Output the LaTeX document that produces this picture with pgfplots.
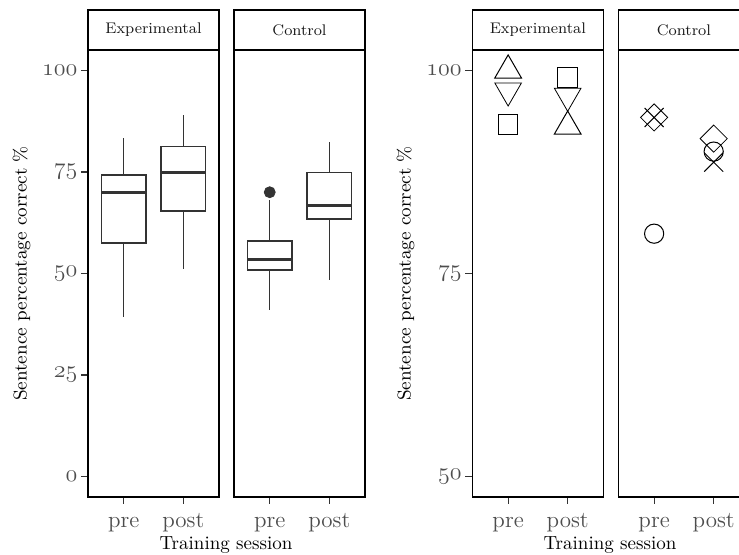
\documentclass[border=0pt]{standalone}
\usepackage{pgfplots}
\pgfplotsset{compat=1.18}
\usepgfplotslibrary{statistics}
\definecolor{gray10}{HTML}{1A1A1A}
\definecolor{gray20}{HTML}{333333}
\definecolor{gray30}{HTML}{4D4D4D}
\pgfplotsset{
  facet/.style={
    scale only axis,
    anchor=south west,
    width=65.5pt, height=223.5pt,
    xmin=0.4, xmax=2.6,
    xtick={1,2}, xticklabels={pre,post},
    tick align=outside,
    xtick pos=bottom, ytick pos=left,
    major tick length=3.5pt,
    tick style={gray20, line width=0.6pt},
    axis line style={black, line width=0.65pt},
    tick label style={font=\fontsize{11.5}{13}\selectfont, text=gray30},
    xticklabel style={text height=1.6ex, text depth=0.45ex, yshift=-1.5pt},
    yticklabel style={xshift=1.7pt},
    every axis title/.style={at={(0.5,1)}, anchor=south, draw=black, line width=0.65pt,
      minimum width=65.5pt, minimum height=20pt, inner sep=0pt, outer sep=0pt,
      font=\fontsize{7.7}{9}\selectfont, text=gray10},
  },
  leftp/.style={facet, ymin=-5, ymax=105},
  rightp/.style={facet, ymin=47.5, ymax=102.5},
  bx/.style={draw=gray20, fill=white, line width=0.75pt, solid, mark=none,
    boxplot/draw direction=y,
    boxplot/box extend=0.75,
    boxplot/whisker extend=0,
    boxplot/every whisker/.style={line width=0.75pt},
    boxplot/every box/.style={line width=0.75pt},
    boxplot/every median/.style={line width=1.4pt}},
  shp/.style={only marks, mark options={draw=black, fill=none, line width=0.5pt}},
}
\begin{document}
\begin{tikzpicture}
% ---------------- left panel: boxplots ----------------
\begin{axis}[leftp, at={(44pt,29pt)}, title={Experimental},
  ytick={0,25,50,75,100},
  yticklabels={$\mathnormal{0}$,$\mathnormal{25}$,$\mathnormal{50}$,$\mathnormal{75}$,$\mathnormal{100}$}]
\addplot[bx, boxplot prepared={draw position=1, median=70.0, upper quartile=74.2,
  lower quartile=57.5, upper whisker=83.3, lower whisker=39.2}] coordinates {};
\addplot[bx, boxplot prepared={draw position=2, median=74.9, upper quartile=81.3,
  lower quartile=65.4, upper whisker=89.0, lower whisker=51.0}] coordinates {};
\end{axis}
\begin{axis}[leftp, at={(117pt,29pt)}, title={Control}, ytick=\empty]
\addplot[bx, boxplot prepared={draw position=1, median=53.4, upper quartile=58.0,
  lower quartile=50.9, upper whisker=68.2, lower whisker=40.9}] coordinates {};
\addplot[bx, boxplot prepared={draw position=2, median=66.7, upper quartile=74.9,
  lower quartile=63.4, upper whisker=82.4, lower whisker=48.4}] coordinates {};
\addplot[only marks, mark=*, mark size=2.75pt, color=gray20] coordinates {(1,70.0)};
\end{axis}
\node[rotate=90, font=\fontsize{9.3}{11}\selectfont] at (10.75pt,140.75pt) {Sentence percentage correct \%};
\node[anchor=base, font=\fontsize{9.5}{11}\selectfont] at (113pt,2.5pt) {Training session};
% ---------------- right panel: points ----------------
\begin{axis}[rightp, at={(236.2pt,29pt)}, title={Experimental},
  ytick={50,75,100},
  yticklabels={$\mathnormal{50}$,$\mathnormal{75}$,$\mathnormal{100}$}]
\addplot[shp, mark=triangle, mark size=7.7pt] coordinates {(1,100.0) (2,93.1)};
\addplot[shp, mark=triangle, mark size=7.7pt, mark options={rotate=180}] coordinates {(1,97.5) (2,96.85)};
\addplot[shp, mark=square, mark size=4.9pt] coordinates {(1,93.3) (2,99.15)};
\end{axis}
\begin{axis}[rightp, at={(309.2pt,29pt)}, title={Control}, ytick=\empty]
\addplot[shp, mark=square, mark size=4.8pt, mark options={rotate=45}] coordinates {(1,94.2) (2,91.6)};
\addplot[shp, mark=x, mark size=6.7pt] coordinates {(1,94.2) (2,88.7)};
\addplot[shp, mark=o, mark size=4.8pt] coordinates {(1,79.9) (2,90.0)};
\end{axis}
\node[rotate=90, font=\fontsize{9.3}{11}\selectfont] at (202.75pt,140.75pt) {Sentence percentage correct \%};
\node[anchor=base, font=\fontsize{9.5}{11}\selectfont] at (305pt,2.5pt) {Training session};
\pgfresetboundingbox
\path[use as bounding box] (0,0) rectangle (369.5pt,277.5pt);
\end{tikzpicture}
\end{document}
